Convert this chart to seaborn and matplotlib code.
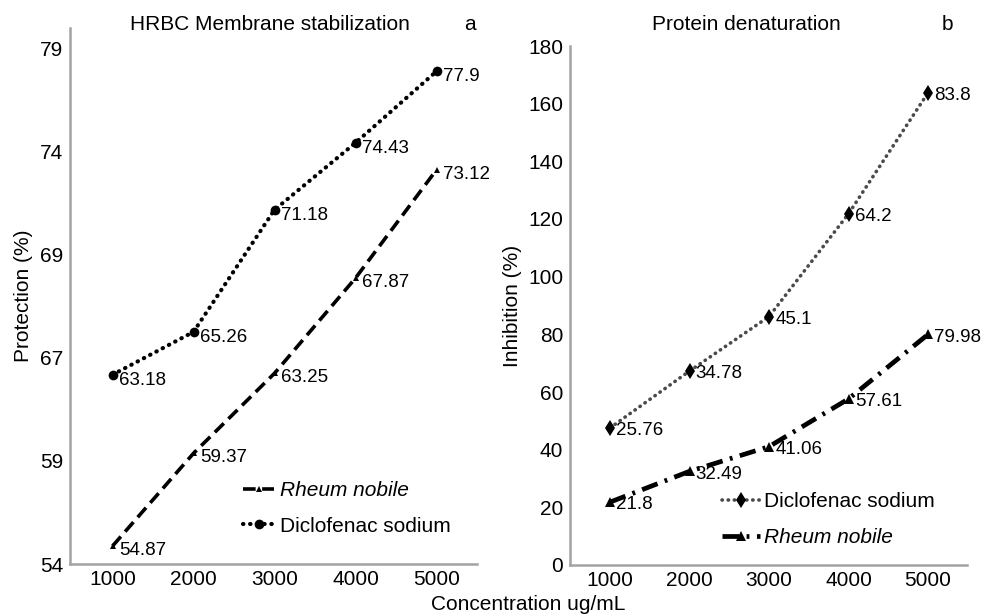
import numpy as np
import pandas as pd
import matplotlib
matplotlib.use("Agg")
import matplotlib.pyplot as plt
import seaborn as sns

# ---------------- data ----------------
concentration = [1000, 2000, 3000, 4000, 5000]

# (a) HRBC membrane stabilization, protection (%)
hrbc_rheum = [54.87, 59.37, 63.25, 67.87, 73.12]
hrbc_diclofenac = [63.18, 65.26, 71.18, 74.43, 77.9]
hrbc_yticks = [54, 59, 64, 69, 74, 79]
hrbc_ytick_labels = ["54", "59", "67", "69", "74", "79"]

# (b) Protein denaturation, inhibition (%) -- drawn as a stacked line chart
prot_rheum = [21.8, 32.49, 41.06, 57.61, 79.98]
prot_diclofenac = [25.76, 34.78, 45.1, 64.2, 83.8]
prot_yticks = [0, 20, 40, 60, 80, 100, 120, 140, 160, 180]

xticks = [1000, 2000, 3000, 4000, 5000]

# ---------------- style ----------------
sns.set_style("white")
plt.rcParams["font.family"] = ["Liberation Sans", "DejaVu Sans"]
plt.rcParams["text.color"] = "black"
plt.rcParams["axes.labelcolor"] = "black"
plt.rcParams["xtick.color"] = "black"
plt.rcParams["ytick.color"] = "black"

W, H = 982, 614
fig = plt.figure(figsize=(W / 100, H / 100), dpi=100)


def px_axes(x0, y0, x1, y1):
    return fig.add_axes([x0 / W, 1 - y1 / H, (x1 - x0) / W, (y1 - y0) / H])


axA = px_axes(70, 28, 477, 564)
axB = px_axes(570, 46, 967, 565)

FS = 15
AFS = 13.5
spine_col = "#a3a3a3"
for ax in (axA, axB):
    for s in ("top", "right"):
        ax.spines[s].set_visible(False)
    for s in ("left", "bottom"):
        ax.spines[s].set_color(spine_col)
        ax.spines[s].set_linewidth(1.8)
    ax.tick_params(axis="both", length=0, labelsize=FS, colors="black")
    ax.tick_params(axis="y", pad=5)
    ax.tick_params(axis="x", pad=4)
    ax.set_xticks(xticks)
    ax.set_xticklabels([str(v) for v in xticks])
    ax.grid(False)

dotted = (0, (0.1, 1.6))

# ---------- panel a ----------
dfA = pd.DataFrame({"conc": concentration, "rheum": hrbc_rheum, "dic": hrbc_diclofenac})
sns.lineplot(data=dfA, x="conc", y="dic", ax=axA, color="black", linewidth=3.0,
             linestyle=dotted, dash_capstyle="round", marker="o", markersize=7,
             markeredgewidth=0, label="Diclofenac sodium")
sns.lineplot(data=dfA, x="conc", y="rheum", ax=axA, color="black", linewidth=2.6,
             linestyle=(0, (3.5, 1.8)), marker="^", markersize=5,
             markeredgewidth=0, label="Rheum nobile")
axA.set_xlim(475, 5500)
axA.set_ylim(54, 80)
axA.set_yticks(hrbc_yticks)
axA.set_yticklabels(hrbc_ytick_labels)
axA.set_xlabel("")
axA.set_ylabel("Protection (%)", fontsize=FS, labelpad=5)

for xv, yv in zip(concentration, hrbc_diclofenac):
    axA.annotate(f"{yv:g}", (xv, yv), xytext=(5, -4), textcoords="offset points",
                 ha="left", va="center", fontsize=AFS)
for xv, yv in zip(concentration, hrbc_rheum):
    axA.annotate(f"{yv:g}", (xv, yv), xytext=(5, -3), textcoords="offset points",
                 ha="left", va="center", fontsize=AFS)

hA, lA = axA.get_legend_handles_labels()
order = [lA.index("Rheum nobile"), lA.index("Diclofenac sodium")]
legA = axA.legend([hA[i] for i in order], [lA[i] for i in order], loc="upper left",
                  bbox_to_anchor=(0.425, 0.155), frameon=False, fontsize=FS,
                  borderpad=0, borderaxespad=0, handlelength=1.5, handletextpad=0.3,
                  labelspacing=0.8)
for t in legA.get_texts():
    if t.get_text() == "Rheum nobile":
        t.set_fontstyle("italic")

# ---------- panel b (stacked lines) ----------
prot_dic_stacked = (np.array(prot_rheum) + np.array(prot_diclofenac)).tolist()
dfB = pd.DataFrame({"conc": concentration, "rheum": prot_rheum, "dic": prot_dic_stacked})
sns.lineplot(data=dfB, x="conc", y="dic", ax=axB, color="#4a4a4a", linewidth=2.6,
             linestyle=dotted, dash_capstyle="round", marker="d", markersize=8,
             markerfacecolor="black", markeredgewidth=0, label="Diclofenac sodium")
sns.lineplot(data=dfB, x="conc", y="rheum", ax=axB, color="black", linewidth=3.4,
             linestyle=(0, (3.5, 1.6, 0.6, 1.6)), marker="^", markersize=7,
             markeredgewidth=0, label="Rheum nobile")
axB.set_xlim(497, 5490)
axB.set_ylim(0, 180)
axB.set_yticks(prot_yticks)
axB.set_yticklabels([str(v) for v in prot_yticks])
axB.set_xlabel("")
axB.set_ylabel("Inhibition (%)", fontsize=FS, labelpad=4)

for xv, yv, lab in zip(concentration, prot_dic_stacked, prot_diclofenac):
    axB.annotate(f"{lab:g}", (xv, yv), xytext=(4.5, -2), textcoords="offset points",
                 ha="left", va="center", fontsize=AFS)
for xv, yv in zip(concentration, prot_rheum):
    axB.annotate(f"{yv:g}", (xv, yv), xytext=(4.5, -2), textcoords="offset points",
                 ha="left", va="center", fontsize=AFS)

hB, lB = axB.get_legend_handles_labels()
legB = axB.legend(hB, lB, loc="upper left", bbox_to_anchor=(0.383, 0.14),
                  frameon=False, fontsize=FS, borderpad=0, borderaxespad=0,
                  handlelength=1.8, handletextpad=0.2, labelspacing=0.8)
for t in legB.get_texts():
    if t.get_text() == "Rheum nobile":
        t.set_fontstyle("italic")

# ---------- titles / labels ----------
fig.text(270 / W, 1 - 25 / H, "HRBC Membrane stabilization", ha="center", va="center", fontsize=FS)
fig.text(470 / W, 1 - 25 / H, "a", ha="center", va="center", fontsize=FS)
fig.text(746 / W, 1 - 25 / H, "Protein denaturation", ha="center", va="center", fontsize=FS)
fig.text(947 / W, 1 - 25 / H, "b", ha="center", va="center", fontsize=FS)
fig.text(528 / W, 1 - 604 / H, "Concentration ug/mL", ha="center", va="center", fontsize=FS)

fig.savefig("out.png", dpi=100)
